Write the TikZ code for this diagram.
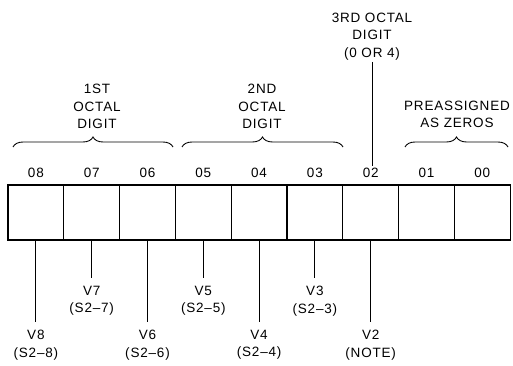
\documentclass[tikz,border=0pt]{standalone}
\usepackage{fontspec}
\setmainfont{Liberation Sans}[LetterSpace=6]
\usetikzlibrary{decorations.pathreplacing}

\begin{document}
\begin{tikzpicture}[
  x=1pt, y=-1pt,
  every node/.style={align=center, font=\fontsize{13.5}{17.5}\selectfont, inner sep=2pt},
  cell/.style={draw, line width=1.2pt, minimum width=55.8pt, minimum height=55pt, inner sep=0pt},
  lead/.style={draw, line width=0.9pt},
  grp/.style={draw, line width=0.9pt, decorate, decoration={brace, amplitude=10pt}}
]
  \useasboundingbox (0,0) rectangle (513,366);
  % register cells, bit 8 on the left
  \foreach \b [count=\i from 0] in {8,7,...,0} {
    \node[cell] (cell\b) at ({8+55.8*(\i+0.5)}, 212.5) {};
    \node (num\b) at ({8+55.8*(\i+0.5)}, 173) {0\b};
  }
  % groups above the register
  \draw[grp] (13,147) -- (173,147);
  \draw[grp] (182,147) -- (343,147);
  \draw[grp] (405,147) -- (508,147);
  \node[anchor=south] (oct1) at (97,131) {1ST\\OCTAL\\DIGIT};
  \node[anchor=south] (oct2) at (262,131) {2ND\\OCTAL\\DIGIT};
  \node[anchor=south] (zeros) at (457,130) {PREASSIGNED\\AS ZEROS};
  \node[anchor=south] (oct3) at (372,62) {3RD OCTAL\\DIGIT\\(0 OR 4)};
  \draw[lead] (oct3.south) -- (oct3.south |- num2.north);
  % value leads below the register
  \foreach \b/\y/\s in {8/322/S2--8, 7/278/S2--7, 6/322/S2--6, 5/278/S2--5,
                        4/322/S2--4, 3/278/S2--3, 2/322/NOTE} {
    \coordinate (end\b) at (cell\b.south |- 0,\y);
    \draw[lead] (cell\b.south) -- (end\b);
    \node[below=6pt] (val\b) at (end\b) {V\b\\(\s)};
  }
\end{tikzpicture}
\end{document}
